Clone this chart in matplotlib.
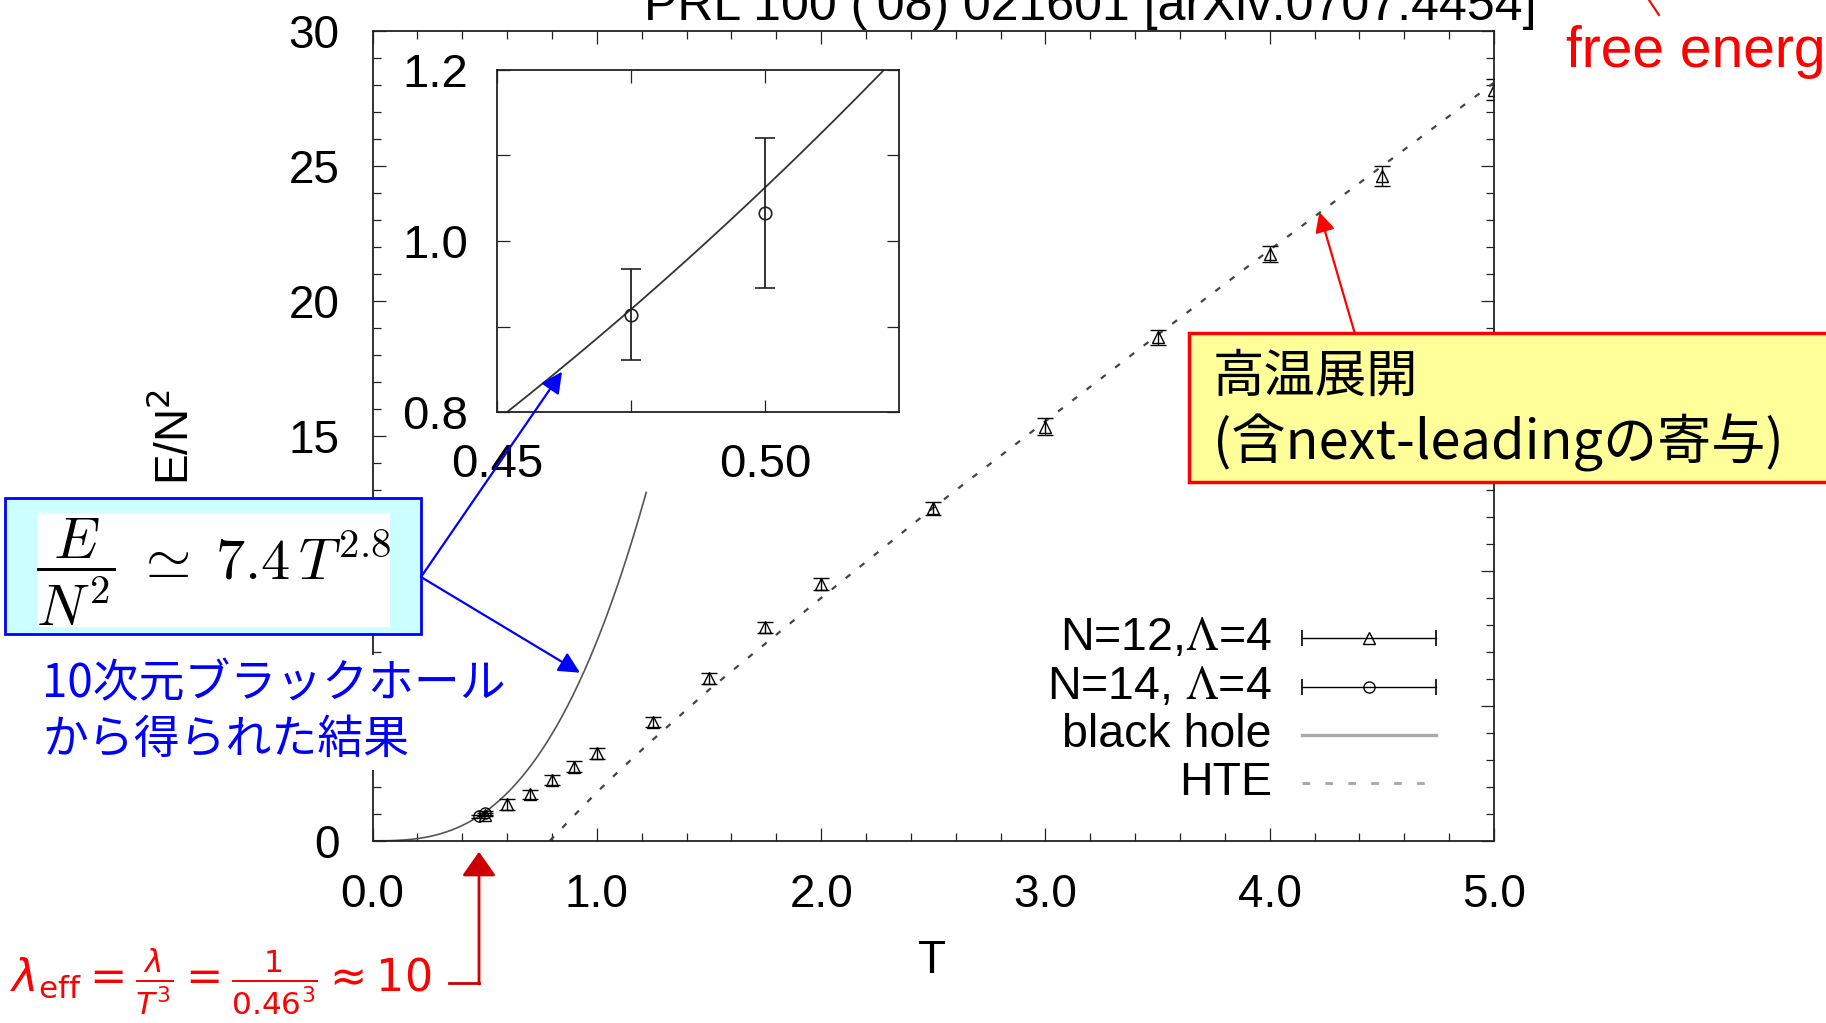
import matplotlib
matplotlib.use("Agg")
import matplotlib.pyplot as plt
from matplotlib.lines import Line2D
from matplotlib.patches import FancyArrowPatch, Rectangle
from matplotlib.ticker import MultipleLocator
import numpy as np

plt.rcParams['font.family'] = ['Liberation Sans', 'DejaVu Sans']
plt.rcParams['mathtext.fontset'] = 'cm'

# Monte Carlo energy, N=12, Lambda=4
t12 = [0.5, 0.6, 0.7, 0.8, 0.9, 1.0, 1.25, 1.5, 1.75, 2.0, 2.5, 3.0, 3.5, 4.0, 4.5, 5.0]
e12 = [0.97, 1.35, 1.72, 2.25, 2.75, 3.24, 4.41, 6.02, 7.91, 9.51, 12.32, 15.35, 18.66, 21.74, 24.64, 27.83]
err12 = [0.06, 0.2, 0.18, 0.2, 0.2, 0.19, 0.18, 0.2, 0.2, 0.22, 0.25, 0.31, 0.27, 0.3, 0.36, 0.39]

# N=14, Lambda=4
t14 = [0.475, 0.5]
e14 = [0.914, 1.033]
err14 = [0.053, 0.088]

# high temperature expansion (with next-leading term)
t_hte = [0.79, 0.9, 1.0, 1.1, 1.25, 1.5, 1.75, 2.0, 2.5, 3.0, 3.5, 4.0, 4.5, 5.0]
e_hte = [0.0, 0.95, 1.8, 2.6, 3.75, 5.6, 7.3, 9.0, 12.35, 15.55, 18.75, 21.9, 25.0, 28.1]

# black hole prediction E/N^2 = 7.4 T^2.8
bh_coeff = 7.4
bh_power = 2.8
bh_tmax = 1.22

xtick_vals = [0, 1, 2, 3, 4, 5]
xtick_labels = ['0.0', '1.0', '2.0', '3.0', '4.0', '5.0']
ytick_vals = [0, 5, 10, 15, 20, 25, 30]
ytick_labels = ['0', '', '', '15', '20', '25', '30']  # 5 and 10 sit under the formula box
legend_labels = ['N=12,$\\Lambda$=4', 'N=14, $\\Lambda$=4', 'black hole', 'HTE']

W, H = 1826, 1023
fig = plt.figure(figsize=(W / 100, H / 100), dpi=100)


def fx(x):
    return x / W


def fy(y):
    return 1 - y / H


def frect(x0, y0, x1, y1):
    return [fx(x0), fy(y1), (x1 - x0) / W, (y1 - y0) / H]


FS = 33
bh_color = '#555555'
hte_color = '#444444'

# ---- main panel ----
ax = fig.add_axes(frect(372.6, 31.4, 1494, 840.8))
tb = np.linspace(0, bh_tmax, 300)
ax.plot(tb, bh_coeff * tb ** bh_power, color=bh_color, lw=1.2)
ax.plot(t_hte, e_hte, color=hte_color, lw=1.6, dashes=(2.7, 5.4))
ax.errorbar(t12, e12, yerr=err12, fmt='^', ms=8.5, mfc='none', mec='black', mew=1,
            ecolor='black', elinewidth=1, capsize=5.5, capthick=1.3)
ax.errorbar(t14, e14, yerr=err14, fmt='o', ms=8, mfc='none', mec='black', mew=1,
            ecolor='black', elinewidth=1, capsize=5.5, capthick=1.3)
ax.set_xlim(0, 5)
ax.set_ylim(0, 30)
ax.set_xticks(xtick_vals)
ax.set_xticklabels(xtick_labels)
ax.set_yticks(ytick_vals)
ax.set_yticklabels(ytick_labels)
ax.xaxis.set_minor_locator(MultipleLocator(0.2))
ax.yaxis.set_minor_locator(MultipleLocator(1))
ax.tick_params(which='both', direction='in', top=True, right=True, width=0.9, colors='#222222')
ax.tick_params(which='major', length=9.5, labelsize=FS, labelcolor='black')
ax.tick_params(which='minor', length=5.5)
ax.tick_params(axis='x', which='major', pad=23)
ax.tick_params(axis='y', which='major', pad=24)
for s in ax.spines.values():
    s.set_linewidth(1.3)
    s.set_color('#222222')

# legend, drawn by hand with right aligned labels
rows = [0.2506, 0.190, 0.1307, 0.0714]
lx0, lx1, ltx = 0.829, 0.948, 0.802
for lab, yy in zip(legend_labels, rows):
    ax.text(ltx, yy, lab, transform=ax.transAxes, ha='right', va='center',
            fontsize=FS + 0.5, math_fontfamily='stix')
for yy, mk in zip(rows[:2], ['^', 'o']):
    ax.plot([lx0, lx1], [yy, yy], color='black', lw=1, transform=ax.transAxes,
            marker='|', ms=11, mew=1.2, clip_on=False)
    ax.plot([(lx0 + lx1) / 2], [yy], marker=mk, ms=8, mfc='none', mec='black',
            mew=1, transform=ax.transAxes, clip_on=False)
ax.plot([lx0, lx1], [rows[2]] * 2, color='#aaaaaa', lw=2.4, transform=ax.transAxes)
ax.plot([lx0, lx1], [rows[3]] * 2, color='#aaaaaa', lw=2.2, dashes=(2.5, 5),
        transform=ax.transAxes)

# ---- inset ----
ins = fig.add_axes(frect(497.2, 69.9, 899, 412.2))
ti = np.linspace(0.44, 0.53, 200)
ins.plot(ti, bh_coeff * ti ** bh_power, color='#333333', lw=1.3)
ins.errorbar(t14, e14, yerr=err14, fmt='o', ms=9, mfc='none', mec='#222222', mew=1.2,
             ecolor='#222222', elinewidth=1.3, capsize=7, capthick=1.3)
ins.set_xlim(0.45, 0.525)
ins.set_ylim(0.8, 1.2)
ins.set_xticks([0.45, 0.475, 0.5])
ins.set_xticklabels(['0.45', '', '0.50'])
ins.set_yticks([0.8, 0.9, 1.0, 1.1, 1.2])
ins.set_yticklabels(['0.8', '', '1.0', '', '1.2'])
ins.tick_params(direction='in', top=True, right=True, length=9, width=0.9,
                labelsize=FS + 1, colors='#222222', labelcolor='black')
ins.tick_params(axis='x', pad=22)
ins.tick_params(axis='y', pad=21)
for s in ins.spines.values():
    s.set_linewidth(1.3)
    s.set_color('#222222')

# ---- labels around the plot ----
fig.text(fx(175), fy(437), 'E/N$^2$', rotation=90, ha='center', va='center',
         fontsize=FS, math_fontfamily='dejavusans')
fig.text(fx(932), fy(961), 'T', ha='center', va='center', fontsize=FS)
fig.text(fx(1090), fy(20), "PRL 100 ('08) 021601 [arXiv:0707.4454]", ha='center',
         va='baseline', fontsize=36)
fig.text(fx(1566), fy(66.7), 'free energy', color='red', va='baseline', fontsize=41)
fig.add_artist(Line2D([fx(1649), fx(1659)], [fy(0), fy(15)], color='red', lw=1.5,
                      transform=fig.transFigure))

# black hole formula box
fig.add_artist(Rectangle((fx(4.6), fy(634)), (421 - 4.6) / W, (634 - 498) / H,
                         transform=fig.transFigure, fc='#ccffff', ec='#0000ff',
                         lw=2, zorder=5))
fig.add_artist(Rectangle((fx(37), fy(627)), (389.6 - 37) / W, (627 - 513) / H,
                         transform=fig.transFigure, fc='white', ec='none', zorder=5))
fig.text(fx(214), fy(572), r'$\dfrac{E}{N^2} \;\simeq\; 7.4\,T^{2.8}$', ha='center',
         va='center', fontsize=42, math_fontfamily='cm', zorder=6)

cjk = ['Noto Sans CJK JP', 'DejaVu Sans']
fig.add_artist(Rectangle((fx(40), fy(770)), (495 - 40) / W, (770 - 655) / H,
                         transform=fig.transFigure, fc='white', ec='none', zorder=5))
fig.text(fx(42), fy(684), '10次元ブラックホール', color='#0000ff', va='center',
         fontsize=33, family=cjk, zorder=6)
fig.text(fx(42), fy(740), 'から得られた結果', color='#0000ff', va='center',
         fontsize=33, family=cjk, zorder=6)
for tip in [(562, 371.7), (580, 672.7)]:
    fig.add_artist(FancyArrowPatch((fx(421), fy(577)), (fx(tip[0]), fy(tip[1])),
                                   transform=fig.transFigure, arrowstyle='-|>',
                                   mutation_scale=32, color='#0000ff', lw=1.6,
                                   shrinkA=0, shrinkB=0, zorder=7))

# high temperature expansion box
fig.add_artist(Rectangle((fx(1189), fy(482)), (1840 - 1189) / W, (482 - 333) / H,
                         transform=fig.transFigure, fc='#ffff99', ec='red',
                         lw=2.5, zorder=5))
fig.text(fx(1213), fy(377), '高温展開', va='center', fontsize=37, family=cjk, zorder=6)
fig.text(fx(1213), fy(443), '(含next-leadingの寄与)', va='center', fontsize=39,
         family=cjk, zorder=6)
fig.add_artist(FancyArrowPatch((fx(1354.4), fy(332)), (fx(1319.4), fy(212)),
                               transform=fig.transFigure, arrowstyle='-|>',
                               mutation_scale=30, color='red', lw=1.6,
                               shrinkA=0, shrinkB=0, zorder=7))

# effective coupling at the lowest temperature
fig.text(fx(9.6), fy(981),
         r'$\lambda_{\mathrm{eff}} = \frac{\lambda}{T^{3}} = \frac{1}{0.46^{3}} \approx 10$',
         color='red', va='center', fontsize=32, math_fontfamily='dejavusans')
fig.add_artist(Line2D([fx(448.5), fx(479)], [fy(983), fy(983)], color='#cc0000',
                      lw=2, transform=fig.transFigure))
fig.add_artist(FancyArrowPatch((fx(479), fy(984)), (fx(479), fy(851.7)),
                               transform=fig.transFigure,
                               arrowstyle='-|>,head_length=0.5,head_width=0.35',
                               mutation_scale=30, color='#cc0000', lw=2,
                               shrinkA=0, shrinkB=0))

fig.savefig('out.png', dpi=100)
